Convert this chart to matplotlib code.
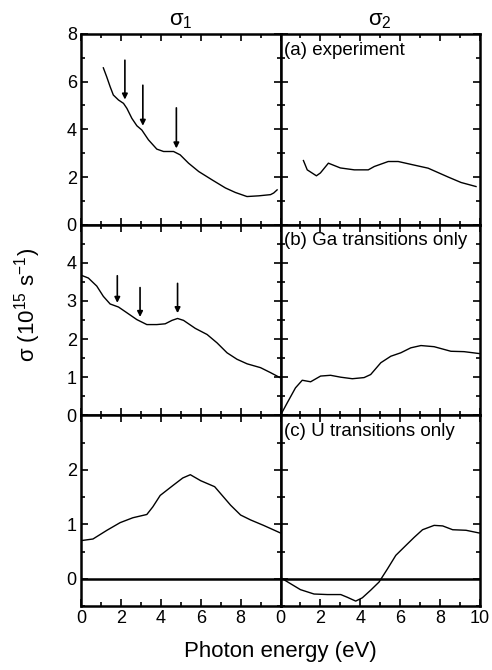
import numpy as np
import matplotlib
matplotlib.use('Agg')
from matplotlib import pyplot as plt
from matplotlib.ticker import MultipleLocator

plt.rcParams['font.family'] = ['Liberation Sans', 'DejaVu Sans']
plt.rcParams['mathtext.fontset'] = 'custom'
plt.rcParams['mathtext.rm'] = 'Liberation Sans'
plt.rcParams['mathtext.it'] = 'Liberation Sans'

# (a) experiment
exp_s1_x = [1.12, 1.29, 1.46, 1.62, 1.88, 2.13, 2.3, 2.55, 2.8, 3.05, 3.38, 3.8, 4.14, 4.64, 4.97,
            5.39, 5.9, 6.57, 7.24, 7.74, 8.32, 8.91, 9.5, 9.66, 9.83]
exp_s1_y = [6.58, 6.2, 5.79, 5.44, 5.23, 5.09, 4.88, 4.46, 4.15, 3.97, 3.56, 3.17, 3.07, 3.07, 2.93,
            2.58, 2.23, 1.88, 1.54, 1.35, 1.18, 1.21, 1.26, 1.33, 1.46]
exp_s2_x = [1.15, 1.34, 1.8, 2.0, 2.4, 3.0, 3.7, 4.4, 4.7, 5.4, 5.9, 6.7, 7.4, 8.4, 9.05, 9.8]
exp_s2_y = [2.69, 2.3, 2.05, 2.17, 2.58, 2.38, 2.3, 2.3, 2.44, 2.65, 2.65, 2.5, 2.37, 2.0, 1.77, 1.6]

# (b) Ga transitions only
ga_s1_x = [0.03, 0.37, 0.79, 1.12, 1.46, 1.88, 2.3, 2.8, 3.3, 3.8, 4.22, 4.56, 4.84, 5.14, 5.73,
           6.32, 6.82, 7.32, 7.82, 8.33, 9.0, 9.5, 9.97]
ga_s1_y = [3.67, 3.6, 3.39, 3.12, 2.92, 2.84, 2.69, 2.51, 2.38, 2.38, 2.4, 2.49, 2.54, 2.49, 2.28,
           2.12, 1.9, 1.64, 1.47, 1.35, 1.25, 1.12, 0.99]
ga_s2_x = [0.05, 0.34, 0.75, 1.09, 1.51, 2.01, 2.51, 3.02, 3.6, 4.19, 4.52, 5.03, 5.53, 6.03, 6.53,
           7.04, 7.7, 8.54, 9.2, 9.96]
ga_s2_y = [0.05, 0.33, 0.72, 0.92, 0.88, 1.03, 1.05, 1.0, 0.96, 0.99, 1.07, 1.38, 1.55, 1.64, 1.77,
           1.83, 1.8, 1.68, 1.67, 1.62]

# (c) U transitions only
u_s1_x = [0.0, 0.6, 1.3, 1.96, 2.6, 3.3, 3.6, 3.97, 4.6, 5.1, 5.48, 6.0, 6.7, 7.5, 8.0, 8.5, 9.15, 10.0]
u_s1_y = [0.7, 0.73, 0.89, 1.03, 1.12, 1.18, 1.32, 1.53, 1.71, 1.85, 1.91, 1.8, 1.69, 1.35, 1.17, 1.08, 0.98, 0.84]
u_s2_x = [0.05, 0.5, 1.0, 1.68, 2.35, 3.02, 3.35, 3.77, 4.1, 4.52, 4.94, 5.36, 5.78, 6.28, 6.7,
          7.12, 7.7, 8.13, 8.63, 9.3, 9.96]
u_s2_y = [0.01, -0.09, -0.2, -0.28, -0.29, -0.29, -0.34, -0.41, -0.35, -0.21, -0.06, 0.18, 0.43, 0.61, 0.76,
          0.9, 0.98, 0.97, 0.9, 0.89, 0.84]

# arrows: x, y_start, y_end
exp_arrow_x = [2.2, 3.1, 4.78]
exp_arrow_y0 = [6.9, 5.85, 4.9]
exp_arrow_y1 = [5.25, 4.15, 3.2]
ga_arrow_x = [1.82, 2.96, 4.84]
ga_arrow_y0 = [3.66, 3.35, 3.46]
ga_arrow_y1 = [2.95, 2.58, 2.68]

panel_labels = ['(a) experiment', '(b) Ga transitions only', '(c) U transitions only']
ylims = [(0, 8), (0, 5), (-0.5, 3)]
ymajor = [2, 1, 1]
ymax_label = [8, 4, 2]

rows = [
    (exp_s1_x, exp_s1_y, exp_s2_x, exp_s2_y),
    (ga_s1_x, ga_s1_y, ga_s2_x, ga_s2_y),
    (u_s1_x, u_s1_y, u_s2_x, u_s2_y),
]
arrows = [(exp_arrow_x, exp_arrow_y0, exp_arrow_y1), (ga_arrow_x, ga_arrow_y0, ga_arrow_y1), None]

fig = plt.figure(figsize=(4.92, 6.70), dpi=100)
L, W = 81 / 492, 199.5 / 492
B, H = 64 / 670, 572 / 670 / 3

for r in range(3):
    y0 = B + (2 - r) * H
    for c in range(2):
        ax = fig.add_axes([L + c * W, y0, W, H])
        xs, ys = rows[r][2 * c], rows[r][2 * c + 1]
        ax.plot(xs, ys, color='black', lw=1.0)
        ax.set_xlim(0, 10)
        ax.set_ylim(*ylims[r])
        ax.xaxis.set_major_locator(MultipleLocator(2))
        ax.xaxis.set_minor_locator(MultipleLocator(1))
        ax.yaxis.set_major_locator(MultipleLocator(ymajor[r]))
        ax.yaxis.set_minor_locator(MultipleLocator(ymajor[r] / 2))
        ax.tick_params(which='both', direction='in', top=True, right=True,
                       labelsize=13, width=1.2, pad=3)
        ax.tick_params(which='major', length=5)
        ax.tick_params(which='minor', length=3)
        for s in ax.spines.values():
            s.set_linewidth(1.8)
        if r == 2:
            ax.axhline(0, color='black', lw=1.8)
            if c == 0:
                ax.set_xticks([0, 2, 4, 6, 8])
                ax.xaxis.set_minor_locator(MultipleLocator(1))
        else:
            ax.set_xticklabels([])
        if c == 0:
            ax.set_yticks(np.arange(0, ymax_label[r] + 0.01, ymajor[r]))
            ax.yaxis.set_minor_locator(MultipleLocator(ymajor[r] / 2))
            if arrows[r] is not None:
                for xa, ya0, ya1 in zip(*arrows[r]):
                    ax.annotate('', xy=(xa, ya1), xytext=(xa, ya0),
                                arrowprops=dict(arrowstyle='-|>', color='black', lw=1.2,
                                                mutation_scale=8, shrinkA=0, shrinkB=0))
        else:
            ax.set_yticklabels([])
            ax.text(0.02, 0.96, panel_labels[r], transform=ax.transAxes,
                    fontsize=13.5, va='top', ha='left')
        if r == 0:
            ax.set_title(r'$\sigma_1$' if c == 0 else r'$\sigma_2$', fontsize=16, pad=6)

fig.text(L + W, (670 - 652) / 670, 'Photon energy (eV)', fontsize=16,
         ha='center', va='center')
fig.text(28 / 492, (670 - 305) / 670, r'$\sigma$ (10$^{15}$ s$^{-1}$)', fontsize=16,
         ha='center', va='center', rotation=90)

fig.savefig('out.png', dpi=100)
